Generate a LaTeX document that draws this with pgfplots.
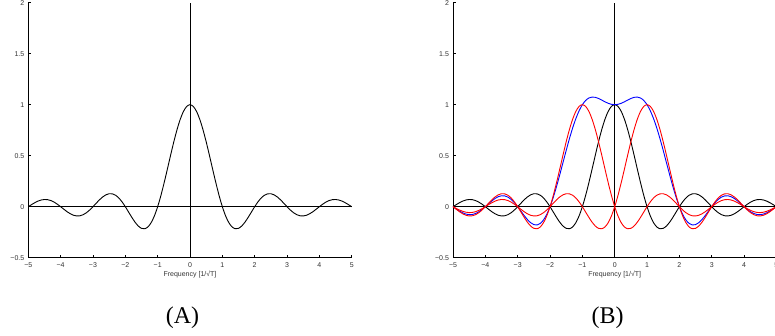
\documentclass[border=0pt]{standalone}
\usepackage{pgfplots}
\pgfplotsset{compat=1.18}
\usepackage{pgfplotstable}
\usepackage{fontspec}
\setmainfont{Liberation Sans}
\newfontfamily\seriffont{Liberation Serif}

\pgfplotstableread{
x s a b t
-5.0 0 0 0 0
-4.9 0.0201 -0.0252 -0.0167 -0.0218
-4.8 0.0390 -0.0492 -0.0323 -0.0425
-4.7 0.0548 -0.0696 -0.0452 -0.0600
-4.6 0.0658 -0.0841 -0.0541 -0.0724
-4.5 0.0707 -0.0909 -0.0579 -0.0781
-4.4 0.0688 -0.0890 -0.0561 -0.0763
-4.3 0.0599 -0.0780 -0.0486 -0.0667
-4.2 0.0445 -0.0585 -0.0360 -0.0500
-4.1 0.0240 -0.0317 -0.0193 -0.0270
-4.0 0 0 0 0
-3.9 -0.0252 0.0339 0.0201 0.0288
-3.8 -0.0492 0.0668 0.0390 0.0566
-3.7 -0.0696 0.0954 0.0548 0.0806
-3.6 -0.0841 0.1164 0.0658 0.0981
-3.5 -0.0909 0.1273 0.0707 0.1071
-3.4 -0.0890 0.1261 0.0688 0.1059
-3.3 -0.0780 0.1120 0.0599 0.0939
-3.2 -0.0585 0.0850 0.0445 0.0710
-3.1 -0.0317 0.0468 0.0240 0.0391
-3.0 0 0 0 0
-2.9 0.0339 -0.0518 -0.0252 -0.0431
-2.8 0.0668 -0.1039 -0.0492 -0.0863
-2.7 0.0954 -0.1515 -0.0696 -0.1257
-2.6 0.1164 -0.1892 -0.0841 -0.1569
-2.5 0.1273 -0.2122 -0.0909 -0.1758
-2.4 0.1261 -0.2162 -0.0890 -0.1791
-2.3 0.1120 -0.1981 -0.0780 -0.1641
-2.2 0.0850 -0.1559 -0.0585 -0.1294
-2.1 0.0468 -0.0894 -0.0317 -0.0743
-2.0 0 0 0 0
-1.9 -0.0518 0.1093 0.0339 0.0914
-1.8 -0.1039 0.2339 0.0668 0.1968
-1.7 -0.1515 0.3679 0.0954 0.3118
-1.6 -0.1892 0.5046 0.1164 0.4318
-1.5 -0.2122 0.6366 0.1273 0.5517
-1.4 -0.2162 0.7568 0.1261 0.6667
-1.3 -0.1981 0.8584 0.1120 0.7723
-1.2 -0.1559 0.9355 0.0850 0.8646
-1.1 -0.0894 0.9836 0.0468 0.9410
-1.0 0 1 0 1
-0.9 0.1093 0.9836 -0.0518 1.0411
-0.8 0.2339 0.9355 -0.1039 1.0655
-0.7 0.3679 0.8584 -0.1515 1.0748
-0.6 0.5046 0.7568 -0.1892 1.0722
-0.5 0.6366 0.6366 -0.2122 1.0610
-0.4 0.7568 0.5046 -0.2162 1.0452
-0.3 0.8584 0.3679 -0.1981 1.0282
-0.2 0.9355 0.2339 -0.1559 1.0135
-0.1 0.9836 0.1093 -0.0894 1.0035
0.0 1 0 0 1
0.1 0.9836 -0.0894 0.1093 1.0035
0.2 0.9355 -0.1559 0.2339 1.0135
0.3 0.8584 -0.1981 0.3679 1.0282
0.4 0.7568 -0.2162 0.5046 1.0452
0.5 0.6366 -0.2122 0.6366 1.0610
0.6 0.5046 -0.1892 0.7568 1.0722
0.7 0.3679 -0.1515 0.8584 1.0748
0.8 0.2339 -0.1039 0.9355 1.0655
0.9 0.1093 -0.0518 0.9836 1.0411
1.0 0 0 1 1
1.1 -0.0894 0.0468 0.9836 0.9410
1.2 -0.1559 0.0850 0.9355 0.8646
1.3 -0.1981 0.1120 0.8584 0.7723
1.4 -0.2162 0.1261 0.7568 0.6667
1.5 -0.2122 0.1273 0.6366 0.5517
1.6 -0.1892 0.1164 0.5046 0.4318
1.7 -0.1515 0.0954 0.3679 0.3118
1.8 -0.1039 0.0668 0.2339 0.1968
1.9 -0.0518 0.0339 0.1093 0.0914
2.0 0 0 0 0
2.1 0.0468 -0.0317 -0.0894 -0.0743
2.2 0.0850 -0.0585 -0.1559 -0.1294
2.3 0.1120 -0.0780 -0.1981 -0.1641
2.4 0.1261 -0.0890 -0.2162 -0.1791
2.5 0.1273 -0.0909 -0.2122 -0.1758
2.6 0.1164 -0.0841 -0.1892 -0.1569
2.7 0.0954 -0.0696 -0.1515 -0.1257
2.8 0.0668 -0.0492 -0.1039 -0.0863
2.9 0.0339 -0.0252 -0.0518 -0.0431
3.0 0 0 0 0
3.1 -0.0317 0.0240 0.0468 0.0391
3.2 -0.0585 0.0445 0.0850 0.0710
3.3 -0.0780 0.0599 0.1120 0.0939
3.4 -0.0890 0.0688 0.1261 0.1059
3.5 -0.0909 0.0707 0.1273 0.1071
3.6 -0.0841 0.0658 0.1164 0.0981
3.7 -0.0696 0.0548 0.0954 0.0806
3.8 -0.0492 0.0390 0.0668 0.0566
3.9 -0.0252 0.0201 0.0339 0.0288
4.0 0 0 0 0
4.1 0.0240 -0.0193 -0.0317 -0.0270
4.2 0.0445 -0.0360 -0.0585 -0.0500
4.3 0.0599 -0.0486 -0.0780 -0.0667
4.4 0.0688 -0.0561 -0.0890 -0.0763
4.5 0.0707 -0.0579 -0.0909 -0.0781
4.6 0.0658 -0.0541 -0.0841 -0.0724
4.7 0.0548 -0.0452 -0.0696 -0.0600
4.8 0.0390 -0.0323 -0.0492 -0.0425
4.9 0.0201 -0.0167 -0.0252 -0.0218
5.0 0 0 0 0
}\sinctable

\pgfplotsset{
  sincaxis/.style={
    anchor=south west,
    scale only axis, width=323.4pt, height=255pt,
    xmin=-5, xmax=5, ymin=-0.5, ymax=2,
    axis x line*=bottom, axis y line*=left,
    tick align=inside, major tick length=2.5pt,
    axis line style={line width=0.7pt, black},
    every tick/.style={black, line width=0.6pt},
    xtick={-5,-4,-3,-2,-1,0,1,2,3,4,5},
    xticklabels={−5,−4,−3,−2,−1,0,1,2,3,4,5},
    ytick={-0.5,0,0.5,1,1.5,2},
    yticklabels={−0.5,0,0.5,1,1.5,2},
    tick label style={font=\fontsize{7}{8}\selectfont, text=black!80},
    xticklabel style={yshift=-1.5pt},
    yticklabel style={xshift=-0.5pt},
    xlabel={Frequency [1/√T]},
    xlabel style={font=\fontsize{7}{8}\selectfont, text=black!80, at={(axis description cs:0.5,0)}, anchor=center, yshift=-16.5pt},
    clip=false,
  }
}

\begin{document}
\begin{tikzpicture}[x=1pt,y=1pt]
\useasboundingbox (0,0) rectangle (775,336);

\begin{axis}[sincaxis, at={(28.3pt,78.3pt)}]
\addplot[black, line width=0.7pt] coordinates {(-5,0) (5,0)};
\addplot[black, line width=0.6pt] coordinates {(0,-0.5) (0,2)};
\addplot[black, line width=0.9pt, smooth] table[x=x, y=s] {\sinctable};
\end{axis}

\begin{axis}[sincaxis, at={(453pt,78.3pt)}]
\addplot[black, line width=0.7pt] coordinates {(-5,0) (5,0)};
\addplot[black, line width=0.6pt] coordinates {(0,-0.5) (0,2)};
\addplot[black, line width=0.9pt, smooth] table[x=x, y=s] {\sinctable};
\addplot[blue, line width=0.9pt, smooth] table[x=x, y=t] {\sinctable};
\addplot[red, line width=0.9pt, smooth] table[x=x, y=a] {\sinctable};
\addplot[red, line width=0.9pt, smooth] table[x=x, y=b] {\sinctable};
\end{axis}

\node[anchor=base, font=\seriffont\fontsize{24}{28}\selectfont] at (182.5,12.3) {(A)};
\node[anchor=base, font=\seriffont\fontsize{24}{28}\selectfont] at (607.5,12.3) {(B)};
\end{tikzpicture}
\end{document}
